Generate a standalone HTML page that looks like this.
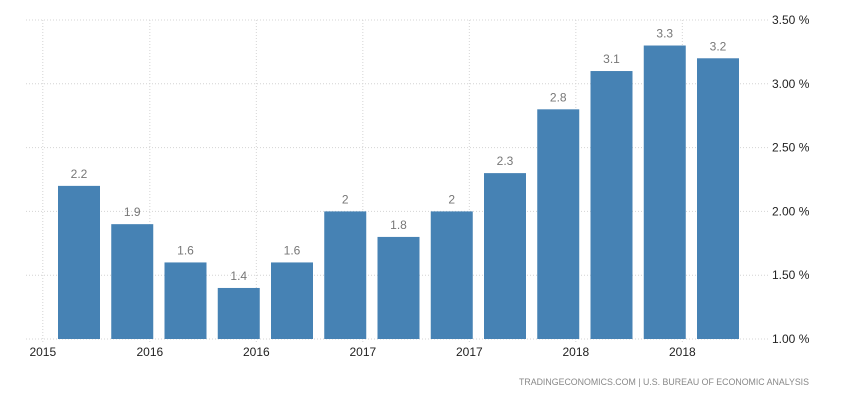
<!DOCTYPE html>
<html><head><meta charset="utf-8"><style>
body{margin:0;background:#fff;}
svg{display:block;font-family:"Liberation Sans",sans-serif;}
</style></head><body>
<svg id="chart" width="850" height="400"></svg>
<script>
const categories=["2015 Q3","2015 Q4","2016 Q1","2016 Q2","2016 Q3","2016 Q4","2017 Q1","2017 Q2","2017 Q3","2017 Q4","2018 Q1","2018 Q2","2018 Q3"];
const values=[2.2,1.9,1.6,1.4,1.6,2,1.8,2,2.3,2.8,3.1,3.3,3.2];
const valueLabels=["2.2","1.9","1.6","1.4","1.6","2","1.8","2","2.3","2.8","3.1","3.3","3.2"];
const yTicks=[1.0,1.5,2.0,2.5,3.0,3.5];
const yTickLabels=["1.00 %","1.50 %","2.00 %","2.50 %","3.00 %","3.50 %"];
const xTickLabels=["2015","2016","2016","2017","2017","2018","2018"];
const xTickPos=[-0.68,1.33,3.33,5.33,7.33,9.33,11.33];

const NS="http://www.w3.org/2000/svg";
const svg=document.getElementById('chart');
const y=v=>339-(v-1)*(319/2.5);
const x=i=>79+i*53.25;
function mk(t,a){const e=document.createElementNS(NS,t);for(const k in a)e.setAttribute(k,a[k]);svg.appendChild(e);return e;}

yTicks.forEach((t,i)=>{
  const l=mk('line',{x1:26,x2:770,y1:y(t),y2:y(t),stroke:'#d4d4d4','stroke-dasharray':'1,2'});
  
  
  const tx=mk('text',{x:772,y:y(t)+4,'font-size':12,fill:'#222'});
  tx.textContent=yTickLabels[i];
  
  
});
xTickPos.forEach((p,i)=>{
  const gx=x(p);
  const l=mk('line',{x1:gx,x2:gx,y1:20,y2:344,stroke:'#d4d4d4','stroke-dasharray':'1,2'});
  
  
  const tx=mk('text',{x:gx,y:356,'font-size':12,fill:'#222','text-anchor':'middle'});
  tx.textContent=xTickLabels[i];
  
  
});
values.forEach((v,i)=>{
  const r=mk('rect',{x:x(i)-21,y:y(v),width:42,height:y(1)-y(v),fill:'#4682b4'});
  
  
  const tx=mk('text',{x:x(i),y:y(v)-8,'font-size':12,fill:'#777','text-anchor':'middle'});
  tx.textContent=valueLabels[i];
  
  
});
const src=mk('text',{x:809,y:385,'font-size':8.8,fill:'#888','text-anchor':'end'});
src.textContent="TRADINGECONOMICS.COM  |  U.S. BUREAU OF ECONOMIC ANALYSIS";


</script>
</body></html>
